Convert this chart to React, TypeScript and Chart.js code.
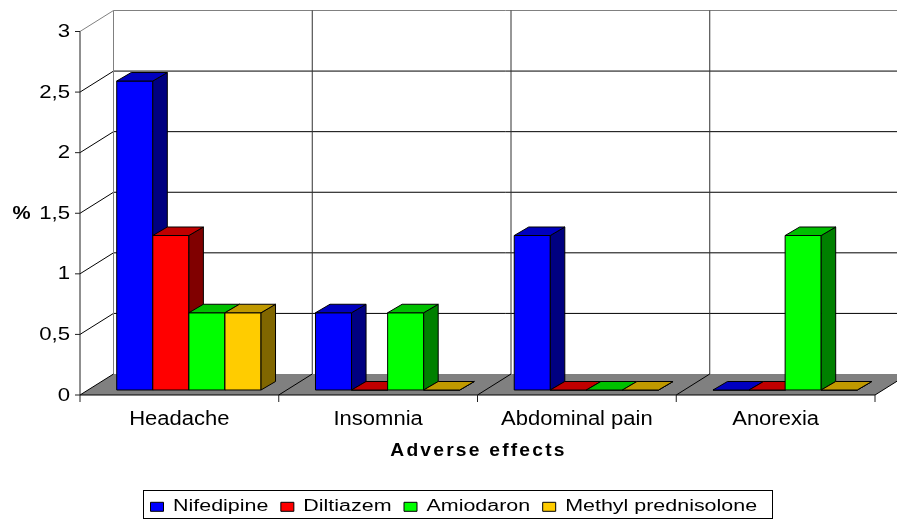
import { useEffect, useRef } from "react";
import { Chart, registerables } from "chart.js";
Chart.register(...registerables);

const categories = ["Headache", "Insomnia", "Abdominal pain", "Anorexia"];
const seriesNames = ["Nifedipine", "Diltiazem", "Amiodaron", "Methyl prednisolone"];
const nifedipine = [2.5, 0.625, 1.25, 0];
const diltiazem = [1.25, 0, 0, 0];
const amiodaron = [0.625, 0.625, 0, 1.25];
const methylPrednisolone = [0.625, 0, 0, 0];
const yTickValues = [0, 0.5, 1, 1.5, 2, 2.5, 3];
const yTickLabels = ["0", "0,5", "1", "1,5", "2", "2,5", "3"];
const yAxisTitle = "%";
const xAxisTitle = "Adverse effects";

const frontColors = ["#0000FF", "#FF0000", "#00FF00", "#FFCC00"];
const sideColors = ["#000080", "#800000", "#008000", "#806600"];
const topColors = ["#0000C0", "#C00000", "#00C000", "#C09900"];

const FONT = "'Liberation Sans', Arial, sans-serif";

// 3D geometry
const DX = 33.5, DY = -21; // wall depth
const BOX = 9.5, BOY = -5; // bar front offset from front plane
const BDX = 14.5, BDY = -8.5; // bar depth
const BK = 1.02; // bar height factor

function textAt(ctx: CanvasRenderingContext2D, text: string, x: number, y: number, font: string, sx: number, align: CanvasTextAlign, spacing = "0px") {
  ctx.save();
  ctx.font = font;
  (ctx as any).letterSpacing = spacing;
  ctx.textBaseline = "middle";
  ctx.textAlign = align;
  ctx.fillStyle = "#000";
  ctx.translate(x, y);
  ctx.scale(sx, 1);
  ctx.fillText(text, 0, 0);
  ctx.restore();
}

function line(ctx: CanvasRenderingContext2D, x1: number, y1: number, x2: number, y2: number, color: string) {
  ctx.beginPath();
  ctx.moveTo(x1, y1);
  ctx.lineTo(x2, y2);
  ctx.strokeStyle = color;
  ctx.lineWidth = 1;
  ctx.stroke();
}

function poly(ctx: CanvasRenderingContext2D, pts: number[][], fill: string, stroke: string | null) {
  ctx.beginPath();
  ctx.moveTo(pts[0][0], pts[0][1]);
  for (let i = 1; i < pts.length; i++) ctx.lineTo(pts[i][0], pts[i][1]);
  ctx.closePath();
  ctx.fillStyle = fill;
  ctx.fill();
  if (stroke) {
    ctx.strokeStyle = stroke;
    ctx.lineWidth = 1;
    ctx.stroke();
  }
}

const draw3d = {
  id: "draw3d",
  beforeDatasetsDraw() {
    return false;
  },
  afterDraw(chart: any) {
    const ctx: CanvasRenderingContext2D = chart.ctx;
    const xs = chart.scales.x;
    const ys = chart.scales.y;
    const L = chart.chartArea.left;
    const R = chart.chartArea.right;
    const y0 = ys.getPixelForValue(0);
    const yTop = ys.getPixelForValue(yTickValues[yTickValues.length - 1]);
    const catW = xs.getPixelForValue(1) - xs.getPixelForValue(0);
    const b0 = xs.getPixelForValue(0) - catW / 2;
    const bounds = categories.map((_, i) => b0 + i * catW).concat([b0 + categories.length * catW]);

    ctx.save();
    // side wall gridlines
    yTickValues.forEach((v, i) => {
      if (i === 0) return;
      const y = ys.getPixelForValue(v);
      const top = i === yTickValues.length - 1;
      line(ctx, L, y, L + DX, y + DY, top ? "#808080" : "#000");
    });
    // back wall gridlines
    yTickValues.forEach((v, i) => {
      if (i === 0) return;
      const y = ys.getPixelForValue(v) + DY;
      const top = i === yTickValues.length - 1;
      line(ctx, L + DX, y, R + DX, y, top ? "#808080" : "#000");
    });
    line(ctx, L + DX, yTop + DY, L + DX, y0 + DY, "#808080");
    for (let i = 1; i < bounds.length - 1; i++) {
      line(ctx, bounds[i] + DX, yTop + DY, bounds[i] + DX, y0 + DY, "#303030");
    }
    // floor
    poly(ctx, [[L, y0], [R, y0], [R + DX, y0 + DY], [L + DX, y0 + DY]], "#808080", null);
    bounds.forEach((bx) => line(ctx, bx, y0, bx + DX, y0 + DY, "#000"));
    line(ctx, L, y0, R, y0, "#000");

    // bars
    for (let c = 0; c < categories.length; c++) {
      for (let d = 0; d < chart.data.datasets.length; d++) {
        const el = chart.getDatasetMeta(d).data[c];
        const p = el.getProps(["x", "y", "base", "width"], true);
        const x1 = p.x - p.width / 2 + BOX;
        const x2 = p.x + p.width / 2 + BOX;
        const yb = p.base + BOY;
        const yt = yb - (p.base - p.y) * BK;
        // front
        poly(ctx, [[x1, yt], [x2, yt], [x2, yb], [x1, yb]], frontColors[d], "#000");
        // side
        poly(ctx, [[x2, yt], [x2 + BDX, yt + BDY], [x2 + BDX, yb + BDY], [x2, yb]], sideColors[d], "#000");
        // top
        poly(ctx, [[x1, yt], [x2, yt], [x2 + BDX, yt + BDY], [x1 + BDX, yt + BDY]], topColors[d], "#000");
      }
    }

    // front axis
    line(ctx, L, yTop, L, y0 + 7, "#202020");
    yTickValues.forEach((v) => {
      const y = ys.getPixelForValue(v);
      line(ctx, L - 5, y, L, y, "#202020");
    });
    bounds.forEach((bx, i) => {
      if (i > 0) line(ctx, bx, y0, bx, y0 + 7, "#202020");
    });

    // y tick labels
    yTickValues.forEach((v, i) => {
      textAt(ctx, yTickLabels[i], L - 10, ys.getPixelForValue(v) + 0.5, `18.5px ${FONT}`, 1.2, "right");
    });
    textAt(ctx, yAxisTitle, 21.5, ys.getPixelForValue(1.5) + 0.5, `bold 19px ${FONT}`, 1.07, "center");

    // x labels
    categories.forEach((cat, i) => {
      textAt(ctx, cat, xs.getPixelForValue(i), y0 + 24, `20px ${FONT}`, 1.1, "center");
    });
    textAt(ctx, xAxisTitle, (L + R) / 2 + 1, y0 + 56, `bold 17.5px ${FONT}`, 1.1, "center", "2px");

    // legend
    const lx = 143.5, ly = 490.5, lw = 629, lh = 28;
    ctx.fillStyle = "#fff";
    ctx.fillRect(lx, ly, lw, lh);
    ctx.strokeStyle = "#000";
    ctx.lineWidth = 1;
    ctx.strokeRect(lx, ly, lw, lh);
    let cx = 150.5;
    const cy = 506.8;
    const lsx = 1.34;
    ctx.font = `16px ${FONT}`;
    seriesNames.forEach((name, d) => {
      poly(ctx, [[cx, cy - 4.5], [cx + 13, cy - 4.5], [cx + 13, cy + 4.5], [cx, cy - 4.5 + 9]], frontColors[d], "#000");
      const tx = cx + 22.5;
      textAt(ctx, name, tx, cy, `16px ${FONT}`, lsx, "left");
      ctx.font = `16px ${FONT}`;
      const w = ctx.measureText(name).width * lsx;
      cx = tx + w + 12.5;
    });
    ctx.restore();
  },
};

export default function App() {
  const ref = useRef<HTMLCanvasElement>(null);
  useEffect(() => {
    if (!ref.current) return;
    const values = [nifedipine, diltiazem, amiodaron, methylPrednisolone];
    const chart = new Chart(ref.current, {
      type: "bar",
      data: {
        labels: categories,
        datasets: seriesNames.map((name, i) => ({
          label: name,
          data: values[i],
          backgroundColor: frontColors[i],
          categoryPercentage: 0.726,
          barPercentage: 1,
        })),
      },
      options: {
        responsive: false,
        animation: false,
        layout: { padding: { left: 80, top: 31.5, right: 22, bottom: 126 } },
        scales: {
          x: { display: false, offset: true },
          y: { display: false, min: 0, max: 3, ticks: { stepSize: 0.5 } },
        },
        plugins: { legend: { display: false }, tooltip: { enabled: false }, title: { display: false } },
      },
      plugins: [draw3d],
    });
    return () => chart.destroy();
  }, []);
  return (
    <div style={{ position: "fixed", left: 0, top: 0, width: 897, height: 521, background: "#fff" }}>
      <canvas ref={ref} width={897} height={521} style={{ display: "block" }} />
    </div>
  );
}
